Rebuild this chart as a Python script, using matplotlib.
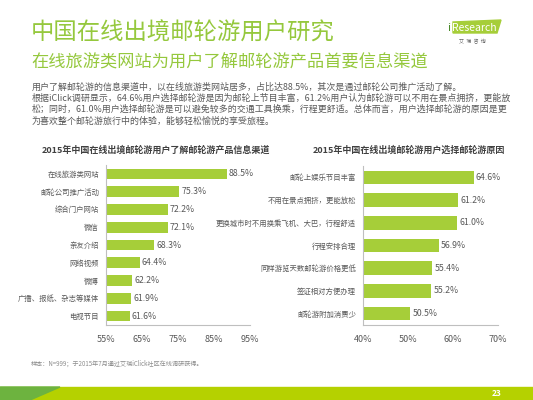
import matplotlib.pyplot as plt
from matplotlib.patches import Polygon, Rectangle

plt.rcParams['font.family'] = ['Noto Sans CJK SC', 'DejaVu Sans']

# data
left_title = '2015年中国在线出境邮轮游用户了解邮轮游产品信息渠道'
left_cats = ['在线旅游类网站', '邮轮公司推广活动', '综合门户网站', '微信', '亲友介绍',
             '网络视频', '微博', '广播、报纸、杂志等媒体', '电视节目']
left_vals = [88.5, 75.3, 72.2, 72.1, 68.3, 64.4, 62.2, 61.9, 61.6]
left_ticks = [55, 65, 75, 85, 95]

right_title = '2015年中国在线出境邮轮游用户选择邮轮游原因'
right_cats = ['邮轮上娱乐节目丰富', '不用在景点拥挤，更能放松', '更换城市时不用换乘飞机、大巴，行程舒适',
              '行程安排合理', '同样游览天数邮轮游价格更低', '签证相对方便办理', '邮轮游附加消费少']
right_vals = [64.6, 61.2, 61.0, 56.9, 55.4, 55.2, 50.5]
right_ticks = [40, 50, 60, 70]

body = ['用户了解邮轮游的信息渠道中，以在线旅游类网站居多，占比达88.5%，其次是通过邮轮公司推广活动了解。',
        '根据iClick调研显示，64.6%用户选择邮轮游是因为邮轮上节目丰富，61.2%用户认为邮轮游可以不用在景点拥挤，更能放',
        '松；同时，61.0%用户选择邮轮游是可以避免较多的交通工具换乘，行程更舒适。总体而言，用户选择邮轮游的原因是更',
        '为喜欢整个邮轮游旅行中的体验，能够轻松愉悦的享受旅程。']

GREEN = '#A6CE39'
TITLE_GREEN = '#95C83D'
GRAY = '#595959'
W, H = 533, 400

fig = plt.figure(figsize=(5.33, 4.0), dpi=100)


def px(x, y):
    return x / W, 1 - y / H


def hbar(ax, cats, vals, ticks):
    y = list(range(len(cats)))
    x0 = ticks[0]
    ax.barh(y, [v - x0 for v in vals], left=x0, height=0.6, color=GREEN)
    for yi, v in zip(y, vals):
        ax.text(v + 0.6 * (ticks[-1] - ticks[0]) / 40, yi, f'{v:.1f}%', va='center', ha='left',
                fontsize=6.3, color=GRAY)
    ax.set_xlim(ticks[0], ticks[-1])
    ax.set_ylim(len(cats) - 0.5, -0.5)
    ax.set_yticks(y)
    ax.set_yticklabels(cats, fontsize=5.3, color=GRAY)
    ax.set_xticks(ticks)
    ax.set_xticklabels([f'{t}%' for t in ticks], fontsize=6.5, color=GRAY)
    ax.tick_params(length=0, pad=5)
    ax.tick_params(axis='x', pad=7)
    for s in ['top', 'right']:
        ax.spines[s].set_visible(False)
    for s in ['left', 'bottom']:
        ax.spines[s].set_color('#BFBFBF')
        ax.spines[s].set_linewidth(0.8)


ax1 = fig.add_axes([106 / W, 1 - 325 / H, 144 / W, 160 / H])
hbar(ax1, left_cats, left_vals, left_ticks)
ax2 = fig.add_axes([363 / W, 1 - 325 / H, 135 / W, 159 / H])
hbar(ax2, right_cats, right_vals, right_ticks)

# headings
fig.text(*px(31, 33), '中国在线出境邮轮游用户研究', fontsize=16.8, color=TITLE_GREEN,
         va='center', ha='left')
fig.text(*px(31, 63), '在线旅游类网站为用户了解邮轮游产品首要信息渠道', fontsize=12.4, color=TITLE_GREEN,
         va='center', ha='left')
for i, line in enumerate(body):
    fig.text(*px(32, 87 + i * 11.3), line, fontsize=6.45, color=GRAY, va='center', ha='left')

fig.text(*px(156, 150), left_title, fontsize=6.5, color='#404040', weight='bold', ha='center', va='center')
fig.text(*px(409, 150), right_title, fontsize=6.5, color='#404040', weight='bold', ha='center', va='center')

fig.text(*px(31, 364), '样本：N=999；于2015年7月通过艾瑞iClick社区在线调研获得。', fontsize=4.4,
         color='#8C8C8C', ha='left', va='center')

# logo
fig.patches.append(Polygon([px(453, 22), px(501, 20), px(497, 33), px(453, 33)], closed=True,
                           transform=fig.transFigure, color='#A6CE39', zorder=1))
fig.text(*px(447, 28), 'i', fontsize=8, color='#4A8A2A', ha='left', va='center', zorder=2)
fig.text(*px(452, 28), 'Research', fontsize=7.5, color='white', ha='left', va='center', zorder=2)
fig.text(*px(472, 42), '艾  瑞  咨  询', fontsize=3.6, color='#666666', ha='center', va='center')

# footer band
fig.patches.append(Rectangle(px(0, 400), 1, 13 / H, transform=fig.transFigure,
                             color='#B5D100', zorder=0))
fig.patches.append(Polygon([px(0, 387), px(60, 387), px(30, 400), px(0, 400)], closed=True,
                           transform=fig.transFigure, color='#6DB33F', zorder=1))
fig.text(*px(497, 394), '23', fontsize=6, color='white', weight='bold', ha='center', va='center')

fig.savefig('out.png', dpi=100)
